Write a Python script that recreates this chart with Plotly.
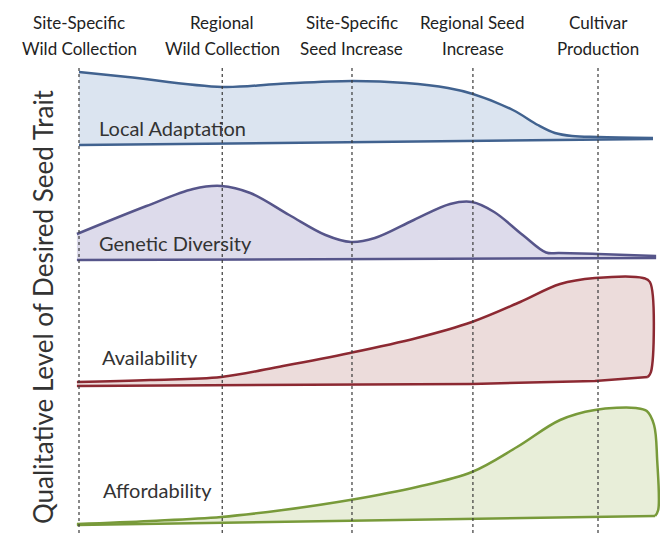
import plotly.graph_objects as go

# ---- data (x: progress along the production chain, 0 = first stage, 100 = cultivar production)
stage_pos = [0, 27.6, 52.6, 75.9, 100]
stage_line1 = ["Site-Specific", "Regional", "Site-Specific", "Regional Seed", "Cultivar"]
stage_line2 = ["Wild Collection", "Wild Collection", "Seed Increase", "Increase", "Production"]

# Local Adaptation (qualitative level)
la_x = [0, 9.4, 27.6, 38.3, 52.6, 63.0, 71.1, 75.9, 83.6, 88.4, 91.7, 95.0, 100, 110.6]
la_y = [7.8, 7.3, 6.3, 6.6, 6.9, 6.7, 6.2, 5.6, 4.0, 2.5, 1.7, 1.4, 1.3, 1.2]
la_base_x = [0, 110.6]
la_base_y = [0.5, 1.1]

# Genetic Diversity
gd_x = [-0.4, 13.0, 22.0, 27.4, 33.0, 40.5, 47.5, 52.4, 57.0, 64.5, 71.5, 75.7, 80.0,
        85.5, 90.0, 92.5, 100, 111.2]
gd_y = [3.1, 5.9, 7.6, 7.9, 7.2, 5.0, 3.0, 2.3, 2.7, 4.5, 6.1, 6.3, 5.3,
        3.0, 1.25, 1.2, 1.1, 0.9]
gd_base_x = [-0.4, 111.2]
gd_base_y = [0.5, 0.7]

# Availability
av_x = [-0.4, 13.7, 27.4, 39.3, 52.2, 65.1, 75.7, 85.0, 92.7, 99.4,
        108.7, 110.0, 110.2, 109.6]
av_y = [0.8, 1.0, 1.3, 2.4, 3.7, 5.2, 6.8, 8.8, 10.6, 11.2,
        11.2, 10.8, 1.8, 1.3]
av_base_x = [-0.4, 75.7, 99.4, 109.6]
av_base_y = [0.4, 0.6, 0.9, 1.3]

# Affordability
af_x = [-0.4, 13.7, 27.4, 39.3, 52.2, 65.1, 75.7, 84.4, 92.7, 99.4,
        107.3, 109.4, 110.8, 111.4, 111.6, 111.0]
af_y = [0.6, 0.9, 1.3, 2.0, 3.0, 4.3, 5.8, 8.3, 11.0, 12.0,
        12.2, 11.9, 10.5, 7.0, 2.0, 1.4]
af_base_x = [-0.4, 111.0]
af_base_y = [0.5, 1.4]

bands = [
    ("Local Adaptation", la_x, la_y, la_base_x, la_base_y, "#41628f", "#dbe4f0", 3.5, 2.2),
    ("Genetic Diversity", gd_x, gd_y, gd_base_x, gd_base_y, "#56558a", "#dddbeb", 3.5, 2.2),
    ("Availability", av_x, av_y, av_base_x, av_base_y, "#8c2932", "#ecdcdb", 4.0, 3.3),
    ("Affordability", af_x, af_y, af_base_x, af_base_y, "#789a3a", "#e8eed9", 4.2, 4.0),
]

# page has an 8 px body margin: figure is 660x544 and sits at (8, 8)
OFF = 8
W, H = 668 - OFF, 552 - OFF
band_px = [(150, 60), (265, 175), (390, 270), (530, 400)]  # bottom/top in window px


def py(p):
    return 1 - (p - OFF) / H


def px(p):
    return (p - OFF) / W


fig = go.Figure()
font = "Lato, Open Sans, sans-serif"

for i, (name, ux, uy, bx, by, lc, fc, lx, ly) in enumerate(bands):
    yref = "y" if i == 0 else f"y{i+1}"
    fig.add_trace(go.Scatter(x=bx, y=by, mode="lines", yaxis=yref,
                             line=dict(color=lc, width=2.5), hoverinfo="skip",
                             showlegend=False))
    fig.add_trace(go.Scatter(x=ux, y=uy, mode="lines", yaxis=yref, fill="tonexty",
                             fillcolor=fc,
                             line=dict(color=lc, width=2.5, shape="spline", smoothing=1.0),
                             hoverinfo="skip", showlegend=False))
    fig.add_annotation(x=lx, y=ly, xref="x", yref=yref, text=name, showarrow=False,
                       xanchor="left", yanchor="middle",
                       font=dict(family=font, size=20, color="#333333"))

# stage dashed lines and labels
for p, l1, l2 in zip(stage_pos, stage_line1, stage_line2):
    fig.add_shape(type="line", xref="x", yref="paper", x0=p, x1=p,
                  y0=py(533), y1=py(66), layer="above",
                  line=dict(color="#3a3a3a", width=1.2, dash="3px,3px"))
    for txt, yy in ((l1, 22), (l2, 49)):
        fig.add_annotation(x=p, y=py(yy), xref="x", yref="paper", text=txt,
                           showarrow=False, xanchor="center", yanchor="middle",
                           font=dict(family=font, size=17, color="#222222"))

fig.add_annotation(x=px(43), y=py(307), xref="paper", yref="paper",
                   text="Qualitative Level of Desired Seed Trait", textangle=-90,
                   showarrow=False, xanchor="center", yanchor="middle",
                   font=dict(family=font, size=26, color="#333333"))

layout_axes = {}
for i, (b, t) in enumerate(band_px):
    key = "yaxis" if i == 0 else f"yaxis{i+1}"
    layout_axes[key] = dict(domain=[py(b), py(t)], range=[0, (b - t) / 10],
                            visible=False, fixedrange=True)

fig.update_layout(
    width=W, height=H, margin=dict(l=0, r=0, t=0, b=0),
    paper_bgcolor="white", plot_bgcolor="white",
    xaxis=dict(range=[-(79 - OFF) / 5.19, (W - (79 - OFF)) / 5.19], visible=False,
               fixedrange=True),
    **layout_axes,
)

fig.write_html("out.html")
